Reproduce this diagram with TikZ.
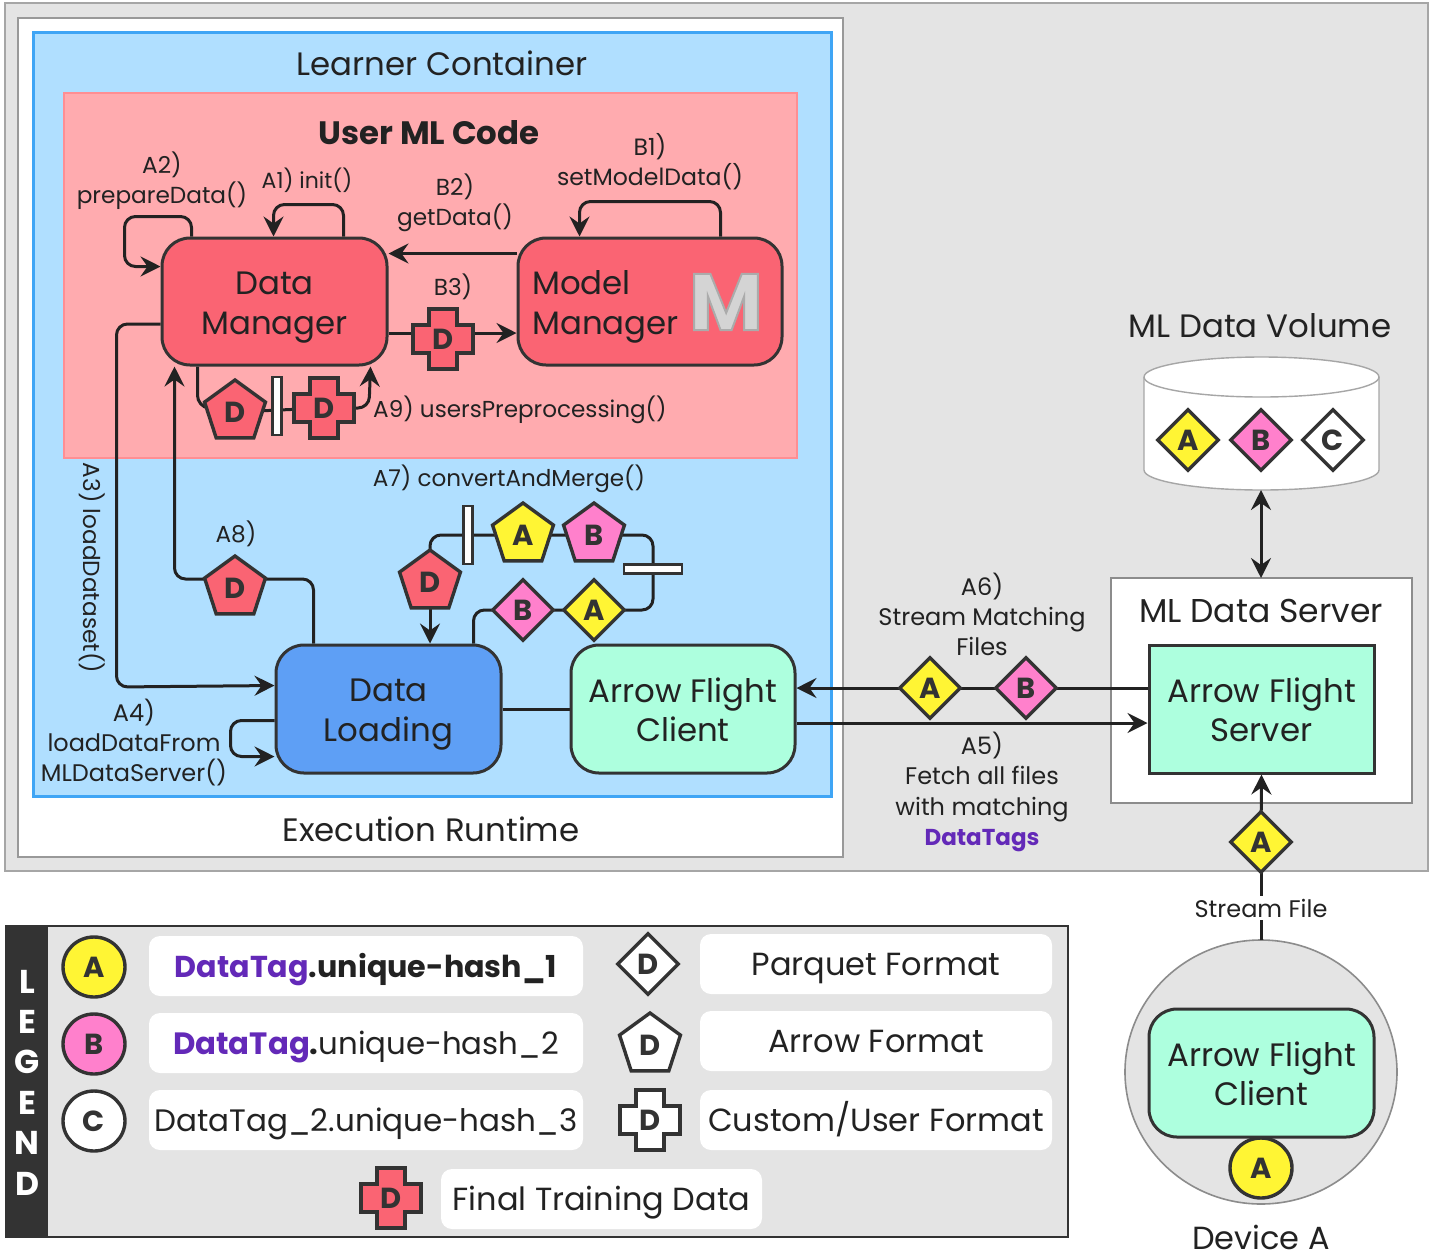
\documentclass[tikz,border=0pt]{standalone}
\usepackage{fontspec}
\setmainfont{Poppins}
\usetikzlibrary{arrows.meta,calc,shapes.geometric}
\pgfdeclarelayer{bglayer}\pgfdeclarelayer{connlayer}
\pgfsetlayers{bglayer,connlayer,main}
\definecolor{ink}{HTML}{222222}
\definecolor{edge}{HTML}{333333}
\definecolor{redf}{HTML}{FA6473}
\definecolor{yel}{HTML}{FFF534}
\definecolor{pnk}{HTML}{FF80CC}
\definecolor{grn}{HTML}{ADFFDE}
\definecolor{blu}{HTML}{5E9FF5}
\definecolor{purp}{HTML}{6329B8}
\definecolor{panel}{HTML}{E4E4E4}
\definecolor{lrnf}{HTML}{B0DFFF}
\definecolor{lrnd}{HTML}{3FA5F5}
\definecolor{umlf}{HTML}{FFABAF}
\definecolor{umld}{HTML}{FF8E93}
\definecolor{mfill}{HTML}{D4D4D4}
\newcommand{\fs}[1]{\fontsize{#1}{#1}\selectfont\lineskiplimit=-100pt\relax}
\newcommand{\two}[2]{\rule{0pt}{34pt}#1\\[7.5pt]#2\rule[-8pt]{0pt}{8pt}}
\newcommand{\plus}[4]{% name, position, fill, letter
  \path[draw=edge,line width=3.4pt,fill=#3,shift={#2}]
    (-14,-30) -- (14,-30) -- (14,-14) -- (30,-14) -- (30,14) -- (14,14) -- (14,30) -- (-14,30) -- (-14,14) -- (-30,14) -- (-30,-14) -- (-14,-14) -- cycle;
  \node[minimum size=60pt,inner sep=0pt,text=edge,font=\fs{29}\bfseries] (#1) at #2 {#4};}
\tikzset{
  x=1pt,y=-1pt,
  txt/.style={text=ink,align=center,font=\fs{24},inner sep=0pt},
  lbl/.style={txt,font=\fs{23.2}},
  big/.style={text=ink,align=center,font=\fs{32.4},inner sep=0pt,text height=27pt,text depth=5pt},
  box/.style={draw=edge,line width=3pt,rounded corners=28pt,text=ink,align=center,font=\fs{32.4},inner sep=0pt},
  conn/.style={draw=ink,line width=3pt,rounded corners=11pt},
  arr/.style={conn,-{Stealth[length=20pt,width=20pt,inset=7pt]}},
  darr/.style={conn,{Stealth[length=20pt,width=20pt,inset=7pt]}-{Stealth[length=20pt,width=20pt,inset=7pt]}},
  tagshape/.style={draw=edge,line width=3.4pt,inner sep=0pt,text=edge,font=\fs{29}\bfseries},
  pent/.style={tagshape,regular polygon,regular polygon sides=5,minimum size=64pt},
  dia/.style={tagshape,diamond,aspect=1,minimum size=62pt},
  circ/.style={tagshape,ellipse,minimum width=62pt,minimum height=60pt},
  barv/.style={draw=edge,line width=2.4pt,fill=white,minimum width=9pt,minimum height=58pt,inner sep=0pt},
  barh/.style={draw=edge,line width=2.4pt,fill=white,minimum width=58pt,minimum height=9pt,inner sep=0pt},
  wbox/.style={fill=white,rounded corners=11pt,inner sep=0pt,text=ink,font=\fs{32},align=center,text height=27pt,text depth=5pt},
}
\begin{document}
\begin{tikzpicture}
\useasboundingbox (0,0) rectangle (1436,1254);
\begin{pgfonlayer}{bglayer}
\fill[white] (0,0) rectangle (1436,1254);
\draw[draw=gray!70,fill=panel,line width=1.6pt] (5,3) rectangle (1428,871);
\draw[draw=gray!80,fill=white,line width=1.6pt] (18,18) rectangle (843,857);
\draw[draw=lrnd,fill=lrnf,line width=3pt] (33,32) rectangle (831,796);
\draw[draw=umld,fill=umlf,line width=1.6pt] (64,93) rectangle (797,458);
\draw[draw=gray!90,fill=white,line width=1.6pt] (1111,578) rectangle (1412,803);
% device
\draw[draw=gray!90,fill=panel,line width=1.6pt] (1261,1072) ellipse [x radius=136,y radius=132];
% cylinder
\draw[draw=gray!70,fill=white,line width=1.4pt] (1144,377) -- (1144,470) arc[start angle=180,end angle=0,x radius=117.5,y radius=20] -- (1379,377) arc[start angle=0,end angle=-180,x radius=117.5,y radius=20] -- cycle;
\draw[draw=gray!70,line width=1.4pt] (1144,377) arc[start angle=180,end angle=0,x radius=117.5,y radius=20];
% legend
\draw[draw=edge,fill=panel,line width=2.6pt] (6,926) rectangle (1068,1237);
\fill[edge] (6,926) rectangle (48,1237);
\end{pgfonlayer}
% titles
\node[big] (tlc) at (442,64) {Learner Container};
\node[big,font=\fs{32.4}\bfseries] (tum) at (429,133) {User ML Code};
\node[big] (ter) at (431,830) {Execution Runtime};
\node[big] (tvol) at (1260,326) {ML Data Volume};
\node[big,font=\fs{33}] (tsrv) at (1261,611) {ML Data Server};
\node[text=ink,font=\fs{32},inner sep=0pt,anchor=base] (tdev) at (1261,1249) {Device A};
% boxes
\node[box,fill=redf,minimum width=225pt,minimum height=127pt] (dm) at (274.5,301.5) {\two{Data}{Manager}};
\node[box,fill=redf,minimum width=264pt,minimum height=127pt] (mm) at (650,301.5) {};
\node[anchor=west,inner sep=0pt,text=ink,font=\fs{32.4},align=left] (mmt) at (532,301.5) {\two{Model}{Manager}};
\node[text=mfill,font=\fs{80}\bfseries,inner sep=0pt] (mlogo) at (726,302) {\special{pdf:code 2 Tr 2 w 0.67 0.67 0.67 RG}M\special{pdf:code 0 Tr}};
\node[box,fill=blu,minimum width=225pt,minimum height=128pt] (dl) at (388.5,709) {\two{Data}{Loading}};
\node[box,fill=grn,minimum width=224pt,minimum height=128pt] (afc) at (683,709) {\two{Arrow Flight}{Client}};
\node[box,fill=grn,rounded corners=0pt,minimum width=225pt,minimum height=128pt] (afs) at (1261.5,709) {\two{Arrow Flight}{Server}};
\node[box,fill=grn,minimum width=225pt,minimum height=128pt] (afd) at (1261.5,1073) {\two{Arrow Flight}{Client}};
\node[circ,fill=yel] (devA) at (1261,1168) {A};
% device top anchor
\coordinate (devtop) at (1261,940);
\coordinate (voltop) at (1261,490);
% shapes
\plus{b3d}{(443,339)}{redf}{D}
\node[pent,fill=redf] (a9p) at (235,412) {D};
\node[barv] (a9b) at (277,406) {};
\plus{a9c}{(324,408)}{redf}{D}
\node[pent,fill=redf] (a8p) at (235,588) {D};
\node[pent,fill=redf] (a7d) at (430,582) {D};
\node[barv] (a7b) at (468,535) {};
\node[pent,fill=yel] (a7a) at (523,535) {A};
\node[pent,fill=pnk] (a7bb) at (594,535) {B};
\node[barh] (a7h) at (653,569) {};
\node[dia,fill=yel] (a7da) at (594,610) {A};
\node[dia,fill=pnk] (a7db) at (523,610) {B};
\node[dia,fill=yel] (fA) at (930,688) {A};
\node[dia,fill=pnk] (fB) at (1026,688) {B};
\node[dia,fill=yel] (vA) at (1188,440) {A};
\node[dia,fill=pnk] (vB) at (1261,440) {B};
\node[dia,fill=white] (vC) at (1333,440) {C};
\node[dia,fill=yel] (sA) at (1261,842) {A};
\node[txt,fill=white,inner ysep=3pt,inner xsep=2pt] (stf) at (1261,908) {Stream File};
% labels
\node[lbl] (la2) at (162,181) {A2)\\[6.8pt]prepareData()};
\node[lbl,font=\fs{22}] (la1) at (307,180) {A1) init()};
\node[lbl] (lb2) at (455,203) {B2)\\[6.8pt]getData()};
\node[lbl,font=\fs{23.6}] (lb1) at (650,162) {B1)\\[6.4pt]setModelData()};
\node[lbl] (lb3) at (453,287) {B3)};
\node[lbl,anchor=west,font=\fs{23.1}] (la9) at (373,410) {A9) usersPreprocessing()};
\node[lbl,font=\fs{23.1}] (la7) at (509,479) {A7) convertAndMerge()};
\node[lbl] (la8) at (236,534) {A8)};
\node[lbl,rotate=-90] (la3) at (92,568) {A3) loadDataset()};
\node[txt] (la4) at (134,743) {A4)\\[6pt]loadDataFrom\\[6pt]MLDataServer()};
\node[txt] (la6) at (982,614) {A6)\\[6pt]Stream Matching\\[6pt]Files};
\node[txt] (la5) at (982,792) {A5)\\[6.3pt]Fetch all files\\[6.3pt]with matching\\[6.3pt]\textcolor{purp}{\fs{23}\bfseries DataTags}};
% connectors
\begin{pgfonlayer}{connlayer}
\draw[arr] ($(dm.north west)+(31,0)$) -- ++(0,-20) -- ++(-67,0) -- ++(0,50) -- ($(dm.north west)+(0,30)$);
\draw[arr] ($(dm.north west)+(183,0)$) -- ++(0,-32) -- ++(-70,0) -- ($(dm.north west)+(113,0)$);
\draw[arr] ($(mm.north west)+(0,17)$) -- ($(dm.north east)+(0,17)$);
\draw[arr] ($(mm.north west)+(204,0)$) -- ++(0,-35) -- ++(-141,0) -- ($(mm.north west)+(63,0)$);
\draw[conn] ($(dm.east)+(0,31.5)$) -- ($(b3d.center)+(0,-6)$);
\draw[arr] ($(b3d.center)+(0,-6)$) -- ($(mm.west)+(0,31.5)$);
\draw[arr] ($(dm.west)+(0,22.5)$) -- ++(-44,0) -- ++(0,363) -- ($(dl.north west)+(0,42)$);
\draw[arr] ($(dl.north west)+(0,77)$) -- ++(-44,0) -- ++(0,36) -- ($(dl.north west)+(0,113)$);
\draw[arr] ($(dl.north west)+(39,0)$) |- ($(a8p.center)+(0,-9)$) -| ($(dm.south west)+(14,0)$);
\draw[conn] ($(dm.south west)+(37,0)$) -- ++(0,40) -- (a9p.center);
\draw[conn] (a9p.center) -- (a9c.center);
\draw[arr] (a9c.center) -- ++(45,0) -- ($(dm.south east)+(-18,0)$);
\draw[conn] ($(dl.north west)+(199,0)$) |- (a7db.center);
\draw[conn] (a7db.center) -- (a7da.center) -| (a7h.center);
\draw[conn] (a7h.center) |- (a7bb.center);
\draw[conn] (a7bb.center) -- (a7b.center) -| (a7d.center);
\draw[arr] (a7d.center) -- (a7d |- dl.north);
\draw[conn] (dl.east) -- (afc.west);
\draw[conn] (afs.west |- fB) -- (fB.center);
\draw[conn] (fB.center) -- (fA.center);
\draw[arr] (fA.center) -- (afc.east |- fA);
\draw[arr] ($(afc.east)+(0,14)$) -- ($(afs.west)+(0,14)$);
\draw[darr] (voltop) -- (voltop |- 0,578);
\draw[conn] (devtop) -- (stf.south);
\draw[conn] (stf.north) -- (sA.center);
\draw[arr] (sA.center) -- (afs.south);
\end{pgfonlayer}
% legend contents
\foreach \ch [count=\i] in {L,E,G,E,N,D} {
  \node[text=white,font=\fs{33}\bfseries,inner sep=0pt,text height=27pt,text depth=5pt] (leg\i) at (27,{982+40.4*(\i-1)}) {\ch};
}
\node[circ,fill=yel] (lA) at (94,967) {A};
\node[circ,fill=pnk] (lB) at (94,1044) {B};
\node[circ,fill=white] (lC) at (94,1121) {C};
\node[wbox,font=\fs{30.2},minimum width=434pt,minimum height=60pt] (t1) at (366,966) {\textcolor{purp}{\bfseries DataTag}\textbf{.unique-hash\_1}};
\node[wbox,font=\fs{30.8},minimum width=434pt,minimum height=60pt] (t2) at (366,1043) {\textcolor{purp}{\bfseries DataTag}\textbf{.}unique-hash\_2};
\node[wbox,font=\fs{31},minimum width=434pt,minimum height=60pt] (t3) at (366,1120) {DataTag\_2.unique-hash\_3};
\node[dia,fill=white] (lpq) at (648,964) {D};
\node[pent,fill=white] (lar) at (650,1045) {D};
\plus{lcu}{(650,1120)}{white}{D}
\node[wbox,minimum width=352pt,minimum height=60pt] (t4) at (876,964) {Parquet Format};
\node[wbox,minimum width=352pt,minimum height=60pt] (t5) at (876,1041) {Arrow Format};
\node[wbox,minimum width=352pt,minimum height=60pt] (t6) at (876,1120) {Custom/User Format};
\plus{lfi}{(391,1198)}{redf}{D}
\node[wbox,minimum width=321pt,minimum height=60pt] (t7) at (601.5,1199) {Final Training Data};
\end{tikzpicture}
\end{document}
